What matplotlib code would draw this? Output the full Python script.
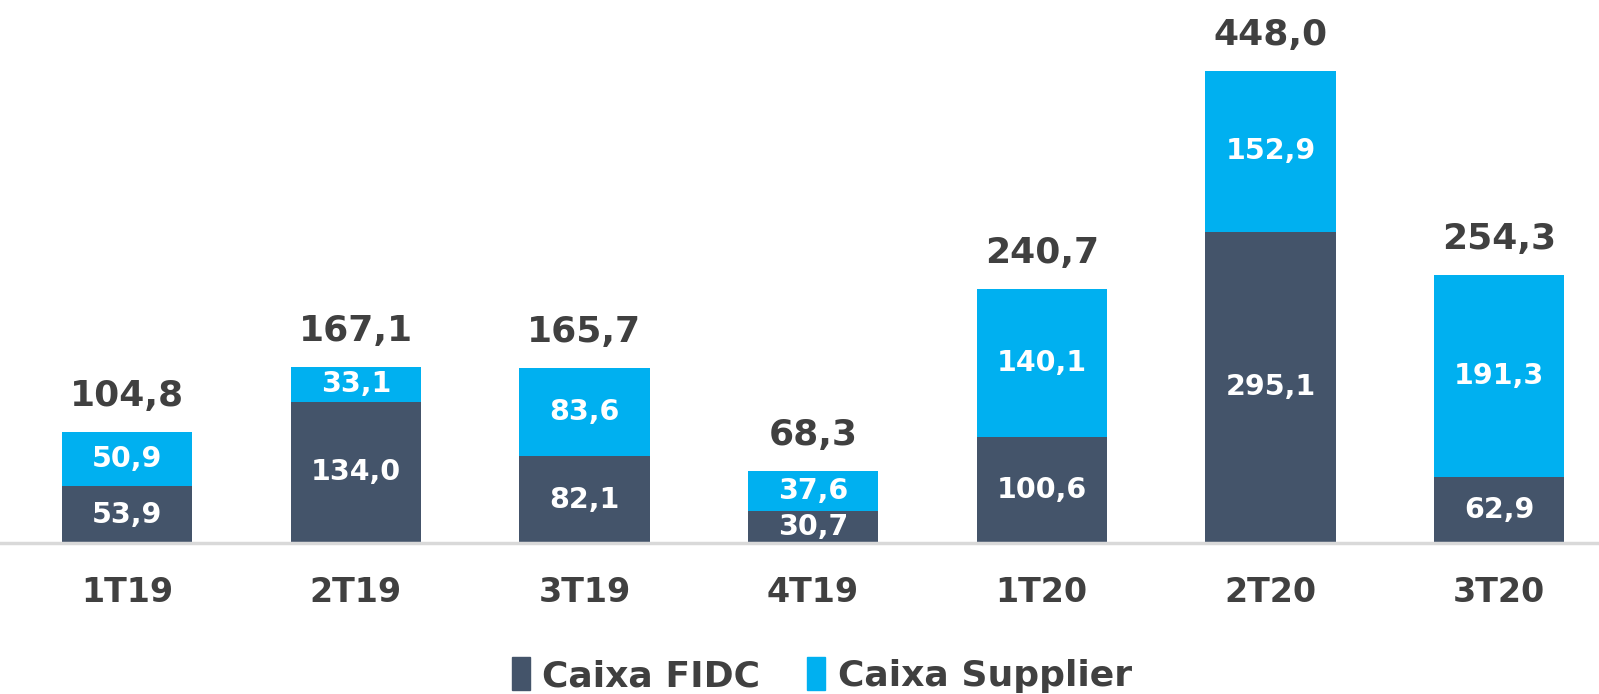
import numpy as np
import matplotlib
matplotlib.use("Agg")
import matplotlib.pyplot as plt
from matplotlib.patches import Patch

# Data
quarters = ["1T19", "2T19", "3T19", "4T19", "1T20", "2T20", "3T20"]
caixa_fidc = [53.9, 134.0, 82.1, 30.7, 100.6, 295.1, 62.9]
caixa_supplier = [50.9, 33.1, 83.6, 37.6, 140.1, 152.9, 191.3]
totals = [104.8, 167.1, 165.7, 68.3, 240.7, 448.0, 254.3]

dark = "#44546A"
cyan = "#00B0F0"
text_gray = "#404040"

plt.rcParams["font.family"] = ["DejaVu Sans"]


def fmt(v):
    return f"{v:.1f}".replace(".", ",")


fig = plt.figure(figsize=(15.99, 6.94), dpi=100)
ax = fig.add_axes([0, 0.2176, 1, 0.7824])

x = np.arange(len(quarters))
width = 0.57
ax.bar(x, caixa_fidc, width, color=dark, label="Caixa FIDC")
ax.bar(x, caixa_supplier, width, bottom=caixa_fidc, color=cyan, label="Caixa Supplier")

# labels inside the segments + totals on top
for i in range(len(quarters)):
    ax.text(x[i], caixa_fidc[i] / 2, fmt(caixa_fidc[i]), ha="center", va="center",
            color="white", fontsize=20.5, fontweight="bold")
    ax.text(x[i], caixa_fidc[i] + caixa_supplier[i] / 2, fmt(caixa_supplier[i]),
            ha="center", va="center", color="white", fontsize=20.5, fontweight="bold")
    ax.annotate(fmt(totals[i]), (x[i], totals[i]), xytext=(0, 26), textcoords="offset points",
                ha="center", va="center", color=text_gray, fontsize=26, fontweight="bold")

ax.set_xlim(-0.556, 6.437)
ax.set_ylim(0, 515)
for s in ["top", "right", "left"]:
    ax.spines[s].set_visible(False)
ax.spines["bottom"].set_color("#D9D9D9")
ax.spines["bottom"].set_linewidth(2.5)
ax.set_yticks([])
ax.set_xticks(x)
ax.set_xticklabels(quarters, fontsize=24, fontweight="bold", color=text_gray)
ax.tick_params(axis="x", length=0, pad=24)

handles = [Patch(color=dark, label="Caixa FIDC"), Patch(color=cyan, label="Caixa Supplier")]
leg = fig.legend(handles=handles, loc="center", bbox_to_anchor=(0.514, 0.027), ncol=2, frameon=False,
                 handlelength=0.5, handleheight=1.0, handletextpad=0.35, columnspacing=1.3,
                 prop={"size": 26, "weight": "bold"})
for t in leg.get_texts():
    t.set_color(text_gray)

fig.savefig("out.png", dpi=100)
